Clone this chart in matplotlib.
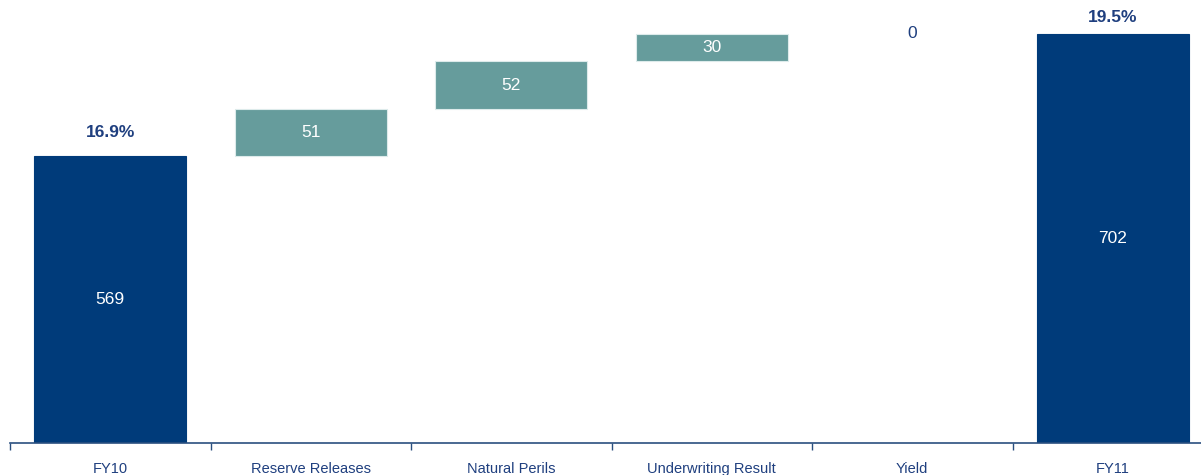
import matplotlib.pyplot as plt

categories = ['FY10', 'Reserve Releases', 'Natural Perils', 'Underwriting Result', 'Yield', 'FY11']
changes = [569, 51, 52, 30, 0, 702]
is_total = [True, False, False, False, False, True]
pct_labels = {0: '16.9%', 5: '19.5%'}

navy = '#003B7A'
teal = '#669C9C'
text_blue = '#1F3F7F'

plt.rcParams['font.family'] = ['Liberation Sans', 'DejaVu Sans']


def main():
    fig = plt.figure(figsize=(12.01, 4.75), dpi=100)
    ax = fig.add_axes([10 / 1201, 32 / 475, 1203 / 1201, 443 / 475])
    ymin, ymax = 256, 739

    bottoms = []
    running = 0
    for i, v in enumerate(changes):
        if is_total[i]:
            bottoms.append(0)
            running = v
        else:
            bottoms.append(running)
            running += v

    x = list(range(len(categories)))
    for i in x:
        top = bottoms[i] + changes[i]
        if changes[i] != 0:
            color = navy if is_total[i] else teal
            ec = navy if is_total[i] else '#DDEBEB'
            ax.bar(i, changes[i], bottom=bottoms[i], width=0.76, color=color,
                   edgecolor=ec, linewidth=0.8, zorder=2)
        # label sits in the middle of the visible part of the bar
        mid = (max(bottoms[i], ymin) + top) / 2
        ax.text(i, mid, str(changes[i]),
                ha='center', va='center', fontsize=12.5,
                color=text_blue if changes[i] == 0 else 'white')
        if i in pct_labels:
            off = 23 if i == 0 else 16
            ax.annotate(pct_labels[i], (i, top),
                        xytext=(0, off), textcoords='offset pixels',
                        ha='center', va='center', fontsize=12.5,
                        fontweight='bold', color=text_blue)

    ax.set_xlim(-0.5, len(categories) - 0.5)
    ax.set_ylim(ymin, ymax)

    for s in ['top', 'right', 'left']:
        ax.spines[s].set_visible(False)
    ax.spines['bottom'].set_color('#2A4F7F')
    ax.spines['bottom'].set_linewidth(1.2)
    ax.set_yticks([])

    ax.set_xticks([i - 0.5 for i in range(len(categories) + 1)], minor=False)
    ax.set_xticklabels([])
    ax.tick_params(axis='x', which='major', length=5, width=1, color='#2A4F7F')
    ax.set_xticks(x, minor=True)
    ax.set_xticklabels(categories, minor=True, fontsize=10.5, color=text_blue)
    ax.tick_params(axis='x', which='minor', length=0, pad=14)

    fig.savefig('out.png', dpi=100)
    plt.close()


if __name__ == '__main__': main()
